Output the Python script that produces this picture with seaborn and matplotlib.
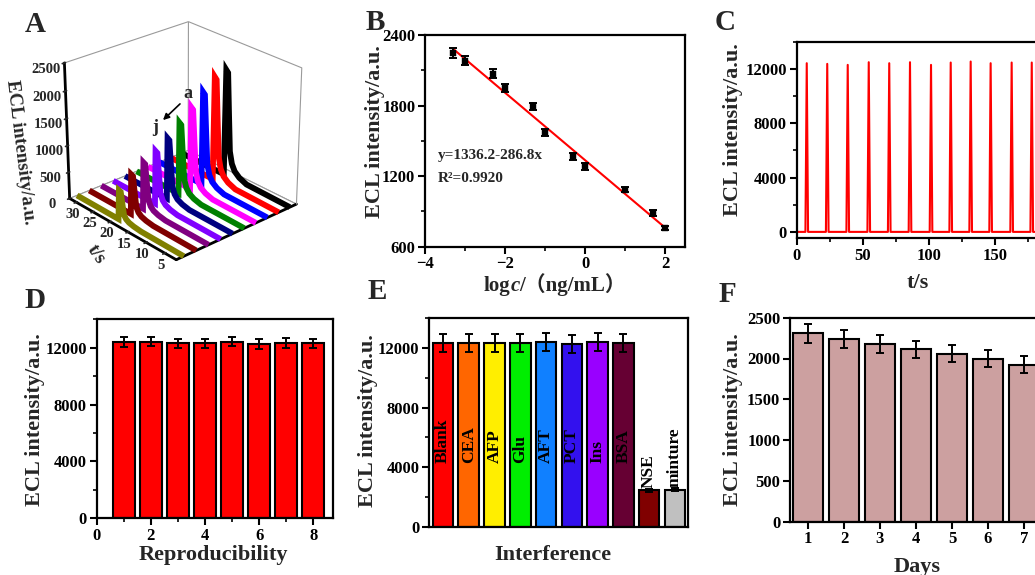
import numpy as np
import pandas as pd
import matplotlib
matplotlib.use("Agg")
import matplotlib.pyplot as plt
import seaborn as sns
from matplotlib.ticker import MultipleLocator
from matplotlib.offsetbox import TextArea, HPacker, AnnotationBbox

# ---------------- data ----------------
# Panel A: ECL-time curves a (back) ... j (front)
a_labels = ["a", "b", "c", "d", "e", "f", "g", "h", "i", "j"]
a_colors = ["#000000", "#FF0000", "#0000FF", "#FF00FF", "#008000",
            "#000080", "#8000FF", "#800080", "#800000", "#808000"]
a_peaks = [2000, 1950, 1750, 1550, 1350, 1150, 1000, 880, 750, 550]
a_profile_t = [32, 19.8, 19.5, 19.0, 18.6, 18.2, 17.6, 16.8, 15.5, 13.5, 2]
a_profile_f = [0, 0, 1.0, 0.98, 0.6, 0.25, 0.14, 0.08, 0.04, 0.01, 0]

# Panel B: calibration
b_logc = [-3.3, -3.0, -2.3, -2.0, -1.3, -1.0, -0.3, 0.0, 1.0, 1.7, 2.0]
b_ecl = [2248, 2183, 2072, 1950, 1794, 1573, 1369, 1284, 1086, 887, 760]
b_err = [40, 40, 35, 35, 30, 30, 30, 30, 25, 25, 20]
b_fit_intercept = 1336.2
b_fit_slope = -286.8
b_fit_x = [-3.3, 2.0]

# Panel C: stability under continuous scans
c_peak_t = [7.6, 23.1, 38.6, 54.5, 70.0, 85.7, 101.6, 116.5, 131.6, 146.7, 162.6, 177.8]
c_peak_h = [12417, 12368, 12294, 12490, 12417, 12490, 12294, 12466, 12540, 12417, 12466, 12466]
c_half_width = 1.0
c_t_end = 200

# Panel D: reproducibility
d_run = [1, 2, 3, 4, 5, 6, 7, 8]
d_ecl = [12395, 12419, 12302, 12302, 12419, 12256, 12326, 12302]
d_err = [330, 330, 330, 330, 330, 330, 330, 330]

# Panel E: interference
e_cats = ["Blank", "CEA", "AFP", "Glu", "AFT", "PCT", "Ins", "BSA", "NSE", "minture"]
e_ecl = [12350, 12330, 12350, 12320, 12380, 12280, 12400, 12330, 2440, 2490]
e_err = [610, 610, 610, 610, 610, 610, 610, 610, 80, 80]
e_colors = ["#FF0000", "#FF6600", "#FFEE00", "#00EE00", "#1080FF",
            "#3311EE", "#9900FF", "#660033", "#800000", "#C0C0C0"]

# Panel F: long-term stability
f_days = [1, 2, 3, 4, 5, 6, 7]
f_ecl = [2307, 2242, 2180, 2111, 2061, 2000, 1926]
f_err = [115, 110, 110, 108, 105, 105, 100]

# ---------------- style ----------------
sns.set_theme(style="ticks")
SERIF = ["Liberation Serif", "DejaVu Serif"]
plt.rcParams["font.family"] = ["Liberation Serif", "Noto Sans CJK SC", "DejaVu Sans"]
plt.rcParams["font.weight"] = "bold"
plt.rcParams["axes.labelweight"] = "bold"

W, H = 1035, 575
fig = plt.figure(figsize=(W / 100, H / 100), dpi=100)


def fbox(l, t, r, b):
    return [l / W, 1 - b / H, (r - l) / W, (b - t) / H]


def style_ax(ax):
    for s in ax.spines.values():
        s.set_color("black")
        s.set_linewidth(1.6)
    ax.tick_params(which="major", direction="out", length=5, width=1.5,
                   labelsize=12, color="black", labelcolor="black",
                   top=False, right=False, pad=2)
    ax.tick_params(which="minor", direction="out", length=3, width=1.2,
                   color="black", top=False, right=False)
    for lab in ax.get_xticklabels() + ax.get_yticklabels():
        lab.set_fontweight("bold")
    ax.set_xlabel("")
    ax.set_ylabel("")


def ftext(x, y, s, **kw):
    fig.text(x / W, 1 - y / H, s, ha="center", va="center", **kw)


ekw = dict(fmt="none", ecolor="black", elinewidth=1.4, capsize=3, capthick=1.4, zorder=5)

# ---------------- Panel A (3D) ----------------
ax3 = fig.add_axes(fbox(14, 4, 344, 273), projection="3d")
n = len(a_labels)
for i, (lab, col, pk) in enumerate(zip(a_labels, a_colors, a_peaks)):
    z = pk * np.array(a_profile_f)
    ax3.plot(a_profile_t, [i] * len(a_profile_t), z, color=col, lw=4.2,
             solid_capstyle="butt", solid_joinstyle="miter")
ax3.set_xlim(2, 32)
ax3.set_ylim(-0.6, n - 0.4)
ax3.set_zlim(0, 2500)
x0, x1 = ax3.get_xlim()
y0, y1 = ax3.get_ylim()
z0, z1 = ax3.get_zlim()
# back-right vertical box edge
ax3.plot([x0, x0], [y0, y0], [z0, z1], color="#9a9a9a", lw=0.8)
ax3.set_xlim(x0, x1)
ax3.set_ylim(y0, y1)
ax3.set_zlim(z0, z1)
ax3.set_xticks([5, 10, 15, 20, 25, 30])
ax3.set_yticks([])
ax3.set_zticks([0, 500, 1000, 1500, 2000, 2500])
ax3.grid(False)
for axis in (ax3.xaxis, ax3.yaxis, ax3.zaxis):
    axis.set_pane_color((1, 1, 1, 1))
    axis.pane.set_edgecolor("#9a9a9a")
    axis.pane.set_linewidth(0.8)
    axis.line.set_color("black")
    axis.line.set_linewidth(2)
ax3.zaxis.set_ticks_position("upper")
ax3.zaxis.set_label_position("upper")
ax3.tick_params(labelsize=10.5, pad=0)
ax3.tick_params(axis="x", pad=-5)
for lab in ax3.get_xticklabels() + ax3.get_zticklabels():
    lab.set_fontweight("bold")
ax3.view_init(elev=26, azim=138)
ax3.set_box_aspect((1, 1, 0.92), zoom=1.0)
ftext(20, 152, "ECL intensity/a.u.", fontsize=13.5, fontweight="bold", rotation=-83)
ftext(96, 254, "t/s", fontsize=14, fontweight="bold", rotation=-55)
fig.add_artist(matplotlib.patches.FancyArrowPatch(
    (182 / W, 1 - 102 / H), (161 / W, 1 - 122 / H), transform=fig.transFigure,
    arrowstyle="-|>", mutation_scale=9, color="black", lw=1.2))
ftext(188, 93, "a", fontsize=13, fontweight="bold")
ftext(155, 127, "j", fontsize=13, fontweight="bold")

# ---------------- Panel B ----------------
axB = fig.add_axes(fbox(425, 35, 685, 246.7))
sns.lineplot(x=b_fit_x, y=[b_fit_intercept + b_fit_slope * x for x in b_fit_x],
             color="#FF0000", lw=1.5, ax=axB)
axB.errorbar(b_logc, b_ecl, yerr=b_err, **ekw)
sns.scatterplot(x=b_logc, y=b_ecl, marker="s", s=14, color="black",
                edgecolor="black", ax=axB, zorder=6)
axB.set_xlim(-4, 2.5)
axB.set_ylim(600, 2400)
axB.xaxis.set_major_locator(MultipleLocator(2))
axB.xaxis.set_minor_locator(MultipleLocator(1))
axB.yaxis.set_major_locator(MultipleLocator(600))
axB.yaxis.set_minor_locator(MultipleLocator(300))
style_ax(axB)
axB.text(0.05, 0.43, "y=1336.2-286.8x", transform=axB.transAxes, fontsize=11,
         fontweight="bold", va="center")
axB.text(0.05, 0.32, "R²=0.9920", transform=axB.transAxes, fontsize=11,
         fontweight="bold", va="center")
tp = dict(fontsize=15, fontweight="bold", family=SERIF)
pack = HPacker(children=[
    TextArea("log", textprops=tp),
    TextArea("c", textprops=dict(tp, style="italic")),
    TextArea("/（ng/mL）", textprops=dict(fontsize=15, fontweight="bold",
                                          family=["Liberation Serif", "Noto Sans CJK SC"])),
], align="baseline", pad=0, sep=0)
fig.add_artist(AnnotationBbox(pack, (555, H - 285), xycoords="figure pixels",
                              frameon=False, box_alignment=(0.5, 0.5)))

# ---------------- Panel C ----------------
axC = fig.add_axes(fbox(796.7, 41.7, 796.7 + 264.4, 238))
ct, cy = [0.0], [0.0]
for t, h in zip(c_peak_t, c_peak_h):
    ct += [t - c_half_width, t, t + c_half_width]
    cy += [0.0, h, 0.0]
ct.append(c_t_end)
cy.append(0.0)
sns.lineplot(x=ct, y=cy, color="#FF0000", lw=1.5, sort=False, estimator=None, ax=axC)
axC.set_xlim(0, 200)
axC.set_ylim(-450, 14000)
axC.set_xticks([0, 50, 100, 150])
axC.xaxis.set_minor_locator(MultipleLocator(25))
axC.yaxis.set_major_locator(MultipleLocator(4000))
axC.yaxis.set_minor_locator(MultipleLocator(2000))
style_ax(axC)

# ---------------- Panel D ----------------
axD = fig.add_axes(fbox(96.7, 319.3, 333, 518.3))
sns.barplot(x=d_run, y=d_ecl, native_scale=True, orient="x", color="#FF0000",
            edgecolor="black", linewidth=1.5, width=0.8, errorbar=None,
            saturation=1, ax=axD)
axD.errorbar(d_run, d_ecl, yerr=d_err, **ekw)
axD.set_xlim(0, 8.73)
axD.set_ylim(0, 14000)
axD.xaxis.set_major_locator(MultipleLocator(2))
axD.xaxis.set_minor_locator(MultipleLocator(1))
axD.yaxis.set_major_locator(MultipleLocator(4000))
axD.yaxis.set_minor_locator(MultipleLocator(2000))
style_ax(axD)

# ---------------- Panel E ----------------
axE = fig.add_axes(fbox(429.3, 318.3, 688.3, 526.7))
dfE = pd.DataFrame({"cat": e_cats, "ecl": e_ecl})
sns.barplot(data=dfE, x="cat", y="ecl", hue="cat", palette=e_colors, legend=False,
            edgecolor="black", linewidth=1.5, width=0.8, errorbar=None,
            saturation=1, ax=axE)
axE.errorbar(range(len(e_cats)), e_ecl, yerr=e_err, **ekw)
for i, (c, v) in enumerate(zip(e_cats, e_ecl)):
    ypos = 4300 if v > 8000 else v + 150
    axE.text(i, ypos, c, rotation=90, ha="center", va="bottom", fontsize=12.5,
             fontweight="bold", color="black")
axE.set_xlim(-0.53, len(e_cats) - 0.48)
axE.set_ylim(0, 14000)
axE.set_xticks([])
axE.yaxis.set_major_locator(MultipleLocator(4000))
axE.yaxis.set_minor_locator(MultipleLocator(2000))
style_ax(axE)

# ---------------- Panel F ----------------
axF = fig.add_axes(fbox(790, 317.7, 790 + 36 * 7, 521.7))
sns.barplot(x=f_days, y=f_ecl, native_scale=True, orient="x", color="#CCA0A0",
            edgecolor="black", linewidth=1.5, width=0.85, errorbar=None,
            saturation=1, ax=axF)
axF.errorbar(f_days, f_ecl, yerr=f_err, **ekw)
axF.set_xlim(0.5, 7.5)
axF.set_ylim(0, 2500)
axF.set_xticks(f_days)
axF.yaxis.set_major_locator(MultipleLocator(500))
style_ax(axF)

# ---------------- labels ----------------
lab_kw = dict(fontsize=16, fontweight="bold")
ftext(375, 132, "ECL intensity/a.u.", rotation=90, **lab_kw)
ftext(733, 130, "ECL intensity/a.u.", rotation=90, **lab_kw)
ftext(35, 420, "ECL intensity/a.u.", rotation=90, **lab_kw)
ftext(368, 421, "ECL intensity/a.u.", rotation=90, **lab_kw)
ftext(733, 420, "ECL intensity/a.u.", rotation=90, **lab_kw)
ftext(918, 283, "t/s", **lab_kw)
ftext(213, 555, "Reproducibility", **lab_kw)
ftext(553, 555, "Interference", **lab_kw)
ftext(917, 567, "Days", **lab_kw)

pl_kw = dict(fontsize=21, fontweight="bold")
ftext(35, 25, "A", **pl_kw)
ftext(375, 23, "B", **pl_kw)
ftext(725, 22, "C", **pl_kw)
ftext(35, 300, "D", **pl_kw)
ftext(377, 291, "E", **pl_kw)
ftext(727, 295, "F", **pl_kw)

fig.savefig("out.png", dpi=100)
